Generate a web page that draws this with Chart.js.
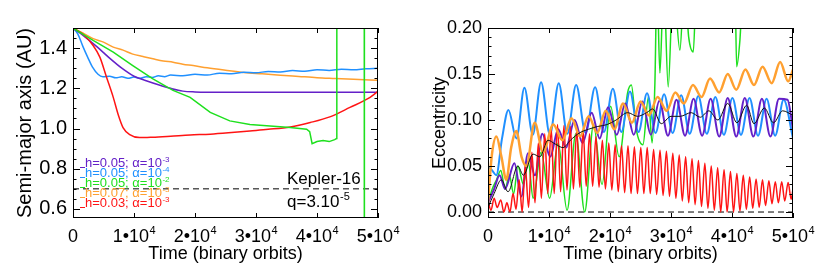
<!DOCTYPE html>
<html>
<head>
<meta charset="utf-8">
<script src="https://cdn.jsdelivr.net/npm/chart.js"></script>
<style>
  html, body { margin: 0; padding: 0; background: #fff; }
  #wrap { position: relative; width: 830px; height: 277px; }
  .box { position: absolute; top: 0; width: 415px; height: 277px; }
</style>
</head>
<body>
<div id="wrap">
  <div class="box" style="left:0"><canvas id="semi" width="415" height="277"></canvas></div>
  <div class="box" style="left:415px"><canvas id="ecc" width="415" height="277"></canvas></div>
</div>
<script>
// ---- shared ----
const xTicks = [0, 10000, 20000, 30000, 40000, 50000];
const colPurple = "#6420c8";
const colBlue = "#2090ff";
const colGreen = "#1ee01e";
const colOrange = "#ffa030";
const colRed = "#ff1414";

// ---- left panel: semi-major axis (AU) ----
const aTicks = [0.6, 0.8, 1.0, 1.2, 1.4];
const aMinor = [0.6, 0.65, 0.7, 0.75, 0.8, 0.85, 0.9, 0.95, 1.0, 1.05, 1.1, 1.15, 1.2, 1.25, 1.3, 1.35, 1.4, 1.45];

const aPurpleT = [0, 2000, 4000, 6000, 8000, 10000, 12000, 14000, 16000, 18000, 20000, 25000, 30000, 35000, 40000, 45000, 50000];
const aPurple  = [1.5, 1.455, 1.405, 1.35, 1.30, 1.26, 1.238, 1.218, 1.2, 1.186, 1.182, 1.18, 1.181, 1.18, 1.181, 1.18, 1.181];

const aBlueT = [0, 800, 1600, 2400, 3200, 4100, 4900, 6000, 7000, 8000, 9000, 10000, 11000, 12000, 13000, 14000, 15000, 16000, 18000, 20000, 22000, 24000, 26000, 28000, 30000, 32000, 34000, 36000, 38000, 40000, 42000, 44000, 46000, 48000, 50000];
const aBlue  = [1.5, 1.47, 1.41, 1.355, 1.305, 1.27, 1.258, 1.26, 1.252, 1.257, 1.25, 1.256, 1.25, 1.258, 1.254, 1.262, 1.258, 1.266, 1.262, 1.27, 1.266, 1.275, 1.272, 1.28, 1.277, 1.284, 1.281, 1.288, 1.285, 1.292, 1.289, 1.295, 1.292, 1.297, 1.30];

const aOrangeT = [0, 1600, 3300, 5000, 6600, 8200, 9800, 11500, 13100, 14800, 16400, 18000, 19700, 22000, 25000, 28000, 31000, 34000, 37000, 40000, 43000, 46000, 50000];
const aOrange  = [1.5, 1.475, 1.447, 1.43, 1.405, 1.39, 1.37, 1.358, 1.347, 1.336, 1.33, 1.32, 1.313, 1.302, 1.29, 1.279, 1.272, 1.265, 1.259, 1.253, 1.249, 1.245, 1.24];

const aGreenT = [0, 1600, 3300, 6600, 9800, 13100, 16400, 19200, 22500, 25700, 29000, 32300, 35600, 38300, 38800, 39200, 40000, 41000, 42000, 42900, 43200, 43250, 47740, 47760, 47780];
const aGreen  = [1.5, 1.47, 1.438, 1.38, 1.313, 1.247, 1.19, 1.155, 1.08, 1.038, 1.02, 1.013, 1.005, 0.997, 0.985, 0.925, 0.935, 0.94, 0.935, 0.945, 0.95, 2.5, 2.5, 2.5, -1];

const aRedT = [0, 1600, 3300, 4400, 5500, 6600, 7400, 8200, 9300, 10900, 13000, 16000, 19200, 22500, 26000, 29000, 32000, 35600, 38900, 42100, 45400, 48700, 50000];
const aRed  = [1.5, 1.47, 1.413, 1.355, 1.255, 1.155, 1.07, 1.005, 0.97, 0.955, 0.957, 0.962, 0.968, 0.972, 0.98, 0.988, 0.996, 1.008, 1.03, 1.058, 1.105, 1.155, 1.185];

const aDashT = [0, 50000];
const aDash  = [0.7, 0.7];

const legendText = ["h=0.05; \u03b1=10", "h=0.05; \u03b1=10", "h=0.05; \u03b1=10", "h=0.07; \u03b1=10", "h=0.03; \u03b1=10"];
const legendExp  = ["-3", "-4", "-2", "-3", "-3"];
const legendCol  = [colPurple, colBlue, colGreen, colOrange, colRed];

// ---- right panel: eccentricity ----
const eTicks = [0, 0.05, 0.10, 0.15, 0.20];
const eMinor = [0, 0.01, 0.02, 0.03, 0.04, 0.05, 0.06, 0.07, 0.08, 0.09, 0.10, 0.11, 0.12, 0.13, 0.14, 0.15, 0.16, 0.17, 0.18, 0.19];

const eBlueT = [0, 700, 1360, 2300, 3350, 4650, 5970, 7340, 8700, 10150, 11600, 13000, 14450, 16000, 17560, 19000, 20470, 21870, 23270, 24670, 26070, 27470, 28870, 30270, 31670, 33070, 34470, 35870, 37270, 38670, 40070, 41470, 42870, 44270, 45670, 47070, 48470, 50000];
const eBlue  = [0.05, 0.045, 0.04, 0.08, 0.111, 0.08, 0.135, 0.084, 0.141, 0.084, 0.14, 0.085, 0.138, 0.086, 0.1355, 0.087, 0.134, 0.087, 0.131, 0.087, 0.129, 0.086, 0.128, 0.086, 0.127, 0.085, 0.126, 0.085, 0.125, 0.084, 0.124, 0.084, 0.124, 0.083, 0.123, 0.083, 0.122, 0.08];

const ePurpleT = [0, 1000, 1900, 2800, 4330, 5460, 6560, 7700, 8900, 10200, 11500, 12800, 14200, 15500, 17000, 18300, 19700, 21100, 22500, 23900, 25300, 26700, 28100, 29500, 30900, 32300, 33700, 35100, 36500, 37900, 39300, 40700, 42100, 43500, 44900, 46300, 47700, 49100, 50000];
const ePurple  = [0.01, 0.025, 0.04, 0.025, 0.053, 0.017, 0.064, 0.04, 0.085, 0.06, 0.09, 0.07, 0.1, 0.075, 0.108, 0.08, 0.114, 0.084, 0.118, 0.084, 0.12, 0.084, 0.121, 0.083, 0.122, 0.083, 0.123, 0.083, 0.123, 0.082, 0.124, 0.082, 0.124, 0.082, 0.123, 0.082, 0.123, 0.122, 0.09];

const eGreenT = [0, 700, 1400, 2100, 2800, 3500, 4200, 4900, 5800, 6600, 7400, 8700, 10100, 11500, 12960, 14400, 15850, 17300, 18700, 20100, 21500, 22900, 23500, 24300, 25400, 26300, 26900, 27360, 27700, 28180, 28800, 29540, 30360, 31460, 32200, 32900, 33650, 34200, 40480, 40760, 41300, 41850, 50000];
const eGreen  = [0.01, 0.025, 0.035, 0.045, 0.025, 0.04, 0.02, 0.05, 0.03, 0.055, 0.015, 0.065, 0.015, 0.075, 0.002, 0.085, 0.0, 0.095, 0.03, 0.115, 0.06, 0.13, 0.138, 0.09, 0.073, 0.125, 0.075, 0.14, 0.25, 0.151, 0.25, 0.136, 0.25, 0.176, 0.25, 0.19, 0.174, 0.25, 0.25, 0.158, 0.187, 0.25, 0.25];

const eOrangeT = [0, 600, 1370, 2200, 3000, 3800, 4640, 5500, 6300, 7650, 9030, 10700, 12200, 13700, 15100, 16500, 17900, 19300, 20700, 22150, 23600, 25000, 26400, 27800, 29300, 30700, 32100, 33600, 35000, 36400, 37900, 39300, 40700, 42200, 43600, 45000, 46500, 47900, 49200, 50000];
const eOrange  = [0.01, 0.06, 0.082, 0.06, 0.035, 0.07, 0.088, 0.06, 0.05, 0.097, 0.065, 0.095, 0.078, 0.102, 0.082, 0.104, 0.086, 0.11, 0.09, 0.118, 0.097, 0.12, 0.105, 0.125, 0.11, 0.13, 0.118, 0.138, 0.125, 0.145, 0.13, 0.15, 0.133, 0.155, 0.138, 0.158, 0.14, 0.163, 0.142, 0.155];

const eRedT = [0, 500, 1000, 1500, 2100, 2600, 3100, 3600, 4100, 4600, 5100, 5600, 6100, 6650, 7200, 7700, 8250, 8750, 9300, 9800, 10350, 10850, 11400, 11900, 12450, 12950, 13500, 14000, 14550, 15050, 15600, 16100, 16650, 17150, 17700, 18200, 18750, 19250, 19800, 20300, 20850, 21350, 21900, 22400, 22950, 23450, 24000, 24500, 25050, 25550, 26100, 26600, 27150, 27650, 28200, 28700, 29250, 29750, 30300, 30800, 31350, 31850, 32400, 32900, 33450, 33950, 34500, 35000, 35550, 36050, 36600, 37100, 37650, 38150, 38700, 39200, 39750, 40250, 40800, 41300, 41850, 42350, 42900, 43400, 43950, 44450, 45000, 45500, 46050, 46550, 47100, 47600, 48150, 48650, 49200, 49700, 50000];
const eRed  = [0.012, 0.002, 0.015, 0.005, 0.013, 0.0, 0.01, 0.0, 0.02, 0.003, 0.035, 0.0, 0.05, 0.005, 0.065, 0.01, 0.075, 0.015, 0.085, 0.02, 0.092, 0.02, 0.095, 0.022, 0.094, 0.024, 0.093, 0.025, 0.09, 0.027, 0.088, 0.028, 0.085, 0.028, 0.082, 0.027, 0.078, 0.025, 0.075, 0.024, 0.073, 0.022, 0.072, 0.021, 0.072, 0.02, 0.071, 0.02, 0.07, 0.02, 0.07, 0.02, 0.068, 0.019, 0.067, 0.018, 0.066, 0.017, 0.064, 0.015, 0.062, 0.012, 0.06, 0.01, 0.058, 0.008, 0.056, 0.006, 0.053, 0.004, 0.05, 0.002, 0.048, 0.0, 0.046, 0.0, 0.044, 0.0, 0.042, 0.001, 0.04, 0.003, 0.038, 0.004, 0.036, 0.005, 0.035, 0.007, 0.034, 0.009, 0.033, 0.01, 0.033, 0.012, 0.032, 0.014, 0.025];

const eBlackT = [0, 1000, 2190, 3280, 4900, 5800, 7380, 8500, 9840, 11000, 12300, 13500, 15000, 16500, 18000, 19500, 21000, 22900, 24500, 26000, 27000, 28400, 30000, 31500, 33300, 34800, 36200, 37700, 39300, 40800, 42400, 43600, 45300, 46800, 48300, 50000];
const eBlack  = [0.005, 0.02, 0.035, 0.022, 0.05, 0.04, 0.063, 0.06, 0.078, 0.074, 0.07, 0.078, 0.086, 0.09, 0.093, 0.095, 0.1, 0.108, 0.104, 0.108, 0.112, 0.096, 0.104, 0.104, 0.108, 0.103, 0.11, 0.1, 0.118, 0.097, 0.116, 0.096, 0.113, 0.097, 0.11, 0.105];

const eDashT = [0, 50000];
const eDash  = [0, 0];

// ---- helpers ----
const FONT = 'Helvetica, Arial, "Liberation Sans", sans-serif';

function pts(ts, vs) {
  return ts.map((t, i) => ({ x: t, y: vs[i] }));
}

function line(label, ts, vs, color, width, dash, smooth) {
  return {
    label: label,
    data: pts(ts, vs),
    borderColor: color,
    borderWidth: width,
    borderDash: dash || [],
    pointRadius: 0,
    cubicInterpolationMode: smooth ? "monotone" : "default",
    tension: 0,
    fill: false
  };
}

// draw text with a small raised exponent
function supText(ctx, base, exp, x, y, size, align) {
  ctx.font = size + "px " + FONT;
  const w1 = ctx.measureText(base).width;
  ctx.font = Math.round(size * 0.62) + "px " + FONT;
  const w2 = exp ? ctx.measureText(exp).width : 0;
  let x0 = x;
  if (align === "center") x0 = x - (w1 + w2) / 2;
  ctx.textAlign = "left";
  ctx.font = size + "px " + FONT;
  ctx.fillText(base, x0, y);
  if (exp) {
    ctx.font = Math.round(size * 0.62) + "px " + FONT;
    ctx.fillText(exp, x0 + w1 + 0.5, y - size * 0.42);
  }
}

// IDL style box: inward ticks on all four sides, x labels with exponent
const framePlugin = {
  id: "frame",
  afterDraw(chart, args, opts) {
    const { ctx, chartArea: a, scales } = chart;
    const x = scales.x, y = scales.y;
    ctx.save();
    ctx.strokeStyle = "#000";
    ctx.lineWidth = 1;
    ctx.strokeRect(a.left + 0.5, a.top + 0.5, a.right - a.left - 1, a.bottom - a.top - 1);
    ctx.beginPath();
    xTicks.forEach(v => {
      const px = Math.round(x.getPixelForValue(v)) + 0.5;
      ctx.moveTo(px, a.bottom); ctx.lineTo(px, a.bottom - 5);
      ctx.moveTo(px, a.top); ctx.lineTo(px, a.top + 5);
    });
    opts.major.forEach(v => {
      const py = Math.round(y.getPixelForValue(v)) + 0.5;
      ctx.moveTo(a.left, py); ctx.lineTo(a.left + 7, py);
      ctx.moveTo(a.right, py); ctx.lineTo(a.right - 7, py);
    });
    opts.minor.forEach(v => {
      const py = Math.round(y.getPixelForValue(v)) + 0.5;
      ctx.moveTo(a.left, py); ctx.lineTo(a.left + 3.5, py);
      ctx.moveTo(a.right, py); ctx.lineTo(a.right - 3.5, py);
    });
    ctx.stroke();

    ctx.fillStyle = "#000";
    ctx.textBaseline = "alphabetic";
    xTicks.forEach(v => {
      const px = x.getPixelForValue(v);
      if (v === 0) supText(ctx, "0", "", px, a.bottom + 24, 18, "center");
      else supText(ctx, (v / 10000) + "\u202210", "4", px, a.bottom + 24, 18, "center");
    });

    if (opts.legend) {
      legendText.forEach((t, i) => {
        const by = 167 + i * 10;
        ctx.strokeStyle = legendCol[i];
        ctx.lineWidth = 1;
        ctx.beginPath();
        ctx.moveTo(80, by + 0.5); ctx.lineTo(85, by + 0.5);
        ctx.stroke();
        ctx.fillStyle = legendCol[i];
        supText(ctx, t, legendExp[i], 85, by, 13, "left");
      });
      ctx.fillStyle = "#000";
      supText(ctx, "Kepler-16", "", 287, 184, 17, "left");
      supText(ctx, "q=3.10", "-5", 287, 207, 17, "left");
    }
    ctx.restore();
  }
};

function makeOptions(yMin, yMax, ticks, minor, digits, title, legend, fontY) {
  return {
    responsive: false,
    animation: false,
    layout: { padding: { top: 28, right: 37, bottom: 0, left: 0 } },
    plugins: {
      legend: { display: false },
      tooltip: { enabled: false },
      frame: { major: ticks, minor: minor, legend: legend }
    },
    scales: {
      x: {
        type: "linear",
        min: 0,
        max: 50000,
        grid: { display: false, drawTicks: false },
        border: { display: false },
        ticks: { display: false },
        title: {
          display: true,
          text: "Time (binary orbits)",
          color: "#000",
          font: { family: FONT, size: 18 },
          padding: { top: 0, bottom: 12 }
        },
        afterFit: s => { s.height = 59; }
      },
      y: {
        type: "linear",
        min: yMin,
        max: yMax,
        grid: { display: false, drawTicks: false },
        border: { display: false },
        afterBuildTicks: s => { s.ticks = ticks.map(v => ({ value: v })); },
        ticks: {
          color: "#000",
          padding: 6,
          font: { family: FONT, size: fontY },
          callback: v => v.toFixed(digits)
        },
        title: {
          display: true,
          text: title,
          color: "#000",
          font: { family: FONT, size: fontY },
          padding: { top: 25 - fontY * 0.6, bottom: 0 }
        },
        afterFit: s => { s.width = 73; }
      }
    }
  };
}

new Chart(document.getElementById("semi"), {
  type: "line",
  data: {
    datasets: [
      line("green", aGreenT, aGreen, colGreen, 1.5),
      line("red", aRedT, aRed, colRed, 1.5, null, true),
      line("purple", aPurpleT, aPurple, colPurple, 1.5, null, true),
      line("blue", aBlueT, aBlue, colBlue, 1.5, null, true),
      line("orange", aOrangeT, aOrange, colOrange, 1.5, null, true),
      line("kepler", aDashT, aDash, "#000", 1, [6, 4])
    ]
  },
  options: makeOptions(0.555, 1.5, aTicks, aMinor, 1, "Semi-major axis (AU)", true, 20),
  plugins: [framePlugin]
});

new Chart(document.getElementById("ecc"), {
  type: "line",
  data: {
    datasets: [
      line("black", eBlackT, eBlack, "#111", 1, null, true),
      line("orange", eOrangeT, eOrange, colOrange, 2.5, null, true),
      line("red", eRedT, eRed, colRed, 1.5, null, true),
      line("purple", ePurpleT, ePurple, colPurple, 2, null, true),
      line("blue", eBlueT, eBlue, colBlue, 2, null, true),
      line("green", eGreenT, eGreen, colGreen, 1.5, null, true),
      line("zero", eDashT, eDash, "#000", 1, [6, 4])
    ]
  },
  options: makeOptions(-0.0065, 0.2, eTicks, eMinor, 2, "Eccentricity", false, 18),
  plugins: [framePlugin]
});
</script>
</body>
</html>
